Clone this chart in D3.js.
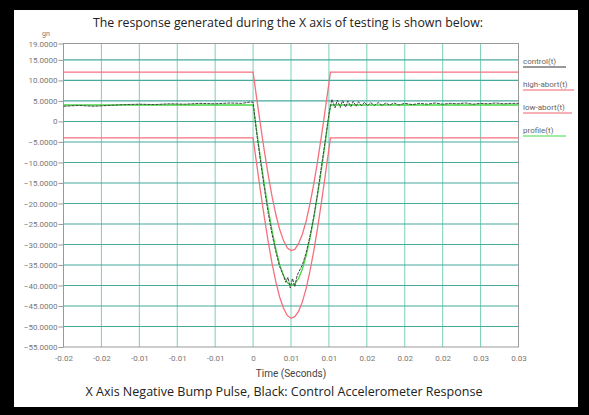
<!DOCTYPE html>
<html>
<head>
<meta charset="utf-8">
<script src="https://d3js.org/d3.v7.min.js"></script>
<style>
  body { margin: 0; background: #000; }
  svg { display: block; }
</style>
</head>
<body>
<div id="chart"></div>
<script>
// x tick values (s) and the labels the original software printed for them
const timeTicks = [-0.025, -0.02, -0.015, -0.01, -0.005, 0, 0.005, 0.01, 0.015, 0.02, 0.025, 0.03, 0.035];
const timeLabels = ['-0.02', '-0.02', '-0.01', '-0.01', '-0.01', '0', '0.01', '0.01', '0.02', '0.02', '0.02', '0.03', '0.03'];
const gTicks = [19, 15, 10, 5, 0, -5, -10, -15, -20, -25, -30, -35, -40, -45, -50, -55];

// [time, g]
const highAbort = [
  [-0.025, 12], [0, 12], [0.0005, 5.3], [0.001, -1.2], [0.0015, -7.4], [0.002, -13.1],
  [0.0025, -18.3], [0.003, -22.7], [0.0035, -26.3], [0.004, -29.0], [0.0045, -30.8],
  [0.005, -31.5], [0.0055, -31.2], [0.006, -29.8], [0.0065, -27.5], [0.007, -24.3],
  [0.0075, -20.1], [0.008, -15.3], [0.0085, -9.8], [0.009, -3.7], [0.0095, 2.7],
  [0.01, 9.3], [0.0102, 12], [0.035, 12]
];
const lowAbort = [
  [-0.025, -4], [0, -4], [0.0005, -10.7], [0.001, -17.3], [0.0015, -23.6], [0.002, -29.4],
  [0.0025, -34.6], [0.003, -39.1], [0.0035, -42.8], [0.004, -45.5], [0.0045, -47.3],
  [0.005, -48.0], [0.0055, -47.6], [0.006, -46.3], [0.0065, -44.0], [0.007, -40.7],
  [0.0075, -36.5], [0.008, -31.6], [0.0085, -26.0], [0.009, -19.9], [0.0095, -13.4],
  [0.01, -6.7], [0.0102, -4], [0.035, -4]
];
const profile = [
  [-0.025, 4.0], [0, 4.0], [0.0005, -2.7], [0.001, -9.3], [0.0015, -15.6], [0.002, -21.4],
  [0.0025, -26.6], [0.003, -31.1], [0.0035, -34.8], [0.004, -37.5], [0.0045, -39.3],
  [0.005, -40.0], [0.0055, -39.6], [0.006, -38.3], [0.0065, -36.0], [0.007, -32.7],
  [0.0075, -28.5], [0.008, -23.6], [0.0085, -18.0], [0.009, -11.9], [0.0095, -5.4],
  [0.01, 1.3], [0.0102, 4.0], [0.035, 4.0]
];
const control = [
  [-0.025, 3.7], [-0.023, 3.9], [-0.021, 3.7], [-0.019, 3.9], [-0.017, 4.1], [-0.015, 4.2],
  [-0.013, 4.1], [-0.011, 4.3], [-0.009, 4.2], [-0.007, 4.4], [-0.005, 4.3], [-0.003, 4.5],
  [-0.0015, 4.4], [-0.0005, 4.7], [0, 4.7], [0.0005, -3.2], [0.001, -10.0], [0.0015, -16.5],
  [0.002, -22.4], [0.0025, -27.5], [0.003, -31.8], [0.0035, -35.4], [0.004, -37.6],
  [0.0043, -39.2], [0.0046, -38.0], [0.0049, -40.6], [0.0052, -38.3], [0.0055, -40.3],
  [0.0058, -37.6], [0.006, -36.8], [0.0065, -35.0], [0.007, -32.0], [0.0075, -28.0],
  [0.008, -23.3], [0.0085, -17.5], [0.009, -11.2], [0.0095, -4.8], [0.01, 1.8], [0.0102, 3.6],
  [0.0104, 5.4], [0.0108, 3.3], [0.0111, 5.2], [0.0115, 3.4], [0.0118, 5.1], [0.0122, 3.5],
  [0.0125, 5.0], [0.0129, 3.6], [0.0132, 4.9], [0.0136, 3.7], [0.0139, 4.8], [0.0143, 3.8],
  [0.0147, 4.7], [0.0151, 3.8], [0.0155, 4.6], [0.016, 3.9], [0.0165, 4.6], [0.017, 3.9],
  [0.0175, 4.5], [0.018, 4.0], [0.0186, 4.5], [0.0192, 4.0], [0.02, 4.4], [0.021, 4.1],
  [0.022, 4.4], [0.023, 4.2], [0.024, 4.5], [0.025, 4.2], [0.026, 4.4], [0.027, 4.3],
  [0.028, 4.5], [0.029, 4.2], [0.03, 4.4], [0.031, 4.3], [0.032, 4.5], [0.033, 4.3],
  [0.034, 4.4], [0.035, 4.4]
];

const legendItems = [
  { name: 'control(t)', color: '#333', width: 43 },
  { name: 'high-abort(t)', color: '#f0606e', width: 51 },
  { name: 'low-abort(t)', color: '#f0606e', width: 49 },
  { name: 'profile(t)', color: '#44d844', width: 43 }
];

const W = 589, H = 415;
const font = "'Liberation Sans Narrow', 'Roboto', sans-serif";
const titleFont = "'Open Sans', 'Noto Sans', sans-serif";

const svg = d3.select('#chart').append('svg').attr('width', W).attr('height', H);

// black frame around a white sheet
svg.append('rect').attr('width', W).attr('height', H).attr('fill', '#000');
svg.append('rect').attr('x', 14).attr('y', 10).attr('width', 564).attr('height', 397).attr('fill', '#fff');

const x = d3.scaleLinear().domain([-0.025, 0.035]).range([63.5, 518.5]);
const y = d3.scaleLinear().domain([-55, 19]).range([347, 43.5]);

// grid
svg.append('g').selectAll('line').data(timeTicks.slice(1, -1)).join('line')
  .attr('x1', d => x(d)).attr('x2', d => x(d))
  .attr('y1', y(19)).attr('y2', y(-55))
  .attr('stroke', '#7ad0b8').attr('stroke-width', 1);
svg.append('g').selectAll('line').data(gTicks.slice(1, -1)).join('line')
  .attr('x1', x(-0.025)).attr('x2', x(0.035))
  .attr('y1', d => y(d)).attr('y2', d => y(d))
  .attr('stroke', '#45aa9a').attr('stroke-width', 1.1);

// axes
const yAxis = svg.append('g')
  .attr('transform', `translate(${x(-0.025)},0)`)
  .call(d3.axisLeft(y).tickValues(gTicks).tickSize(5).tickPadding(1)
    .tickFormat(d => d === 0 ? '0' : d3.format('.4f')(d)));
yAxis.select('.domain').remove();
yAxis.selectAll('line').attr('stroke', '#999');
yAxis.selectAll('text').attr('fill', '#777').style('font-family', font).style('font-size', '8px');

const xAxis = svg.append('g')
  .attr('transform', `translate(0,${y(-55)})`)
  .call(d3.axisBottom(x).tickValues(timeTicks).tickSize(0).tickPadding(8)
    .tickFormat((d, i) => timeLabels[i]));
xAxis.select('.domain').remove();
xAxis.selectAll('text').attr('fill', '#777').style('font-family', font).style('font-size', '8px');

svg.append('rect')
  .attr('x', x(-0.025)).attr('y', y(19))
  .attr('width', x(0.035) - x(-0.025)).attr('height', y(-55) - y(19))
  .attr('fill', 'none').attr('stroke', '#999').attr('stroke-width', 1);

// series
const line = d3.line().x(d => x(d[0])).y(d => y(d[1]));
svg.append('path').datum(highAbort).attr('d', line)
  .attr('fill', 'none').attr('stroke', '#f4707e').attr('stroke-width', 1.3);
svg.append('path').datum(lowAbort).attr('d', line)
  .attr('fill', 'none').attr('stroke', '#f4707e').attr('stroke-width', 1.3);
svg.append('path').datum(profile).attr('d', line)
  .attr('fill', 'none').attr('stroke', '#44d844').attr('stroke-width', 1.3);
svg.append('path').datum(control).attr('d', line)
  .attr('fill', 'none').attr('stroke', '#444').attr('stroke-width', 1)
  .attr('stroke-dasharray', '3,1');

// legend
const leg = svg.append('g').selectAll('g').data(legendItems).join('g')
  .attr('transform', (d, i) => `translate(523,${64 + i * 23})`);
leg.append('text').text(d => d.name)
  .attr('fill', '#666').style('font-family', font).style('font-size', '8px');
leg.append('line').attr('x1', 0).attr('x2', d => d.width).attr('y1', 3).attr('y2', 3)
  .attr('stroke', d => d.color).attr('stroke-width', 1);

// texts
svg.append('text').text('gn').attr('x', 46).attr('y', 36).attr('text-anchor', 'middle')
  .attr('fill', '#777').style('font-family', font).style('font-size', '7px');
svg.append('text').text('The response generated during the X axis of testing is shown below:')
  .attr('x', 288).attr('y', 27).attr('text-anchor', 'middle')
  .attr('textLength', 390).attr('lengthAdjust', 'spacingAndGlyphs')
  .attr('fill', '#222').style('font-family', titleFont).style('font-size', '13px').style('font-weight', 500);
svg.append('text').text('Time (Seconds)')
  .attr('x', 291).attr('y', 377).attr('text-anchor', 'middle')
  .attr('fill', '#444').style('font-family', font).style('font-size', '10px');
svg.append('text').text('X Axis Negative Bump Pulse, Black: Control Accelerometer Response')
  .attr('x', 284).attr('y', 396).attr('text-anchor', 'middle')
  .attr('textLength', 397).attr('lengthAdjust', 'spacingAndGlyphs')
  .attr('fill', '#222').style('font-family', titleFont).style('font-size', '12.5px');
</script>
</body>
</html>
